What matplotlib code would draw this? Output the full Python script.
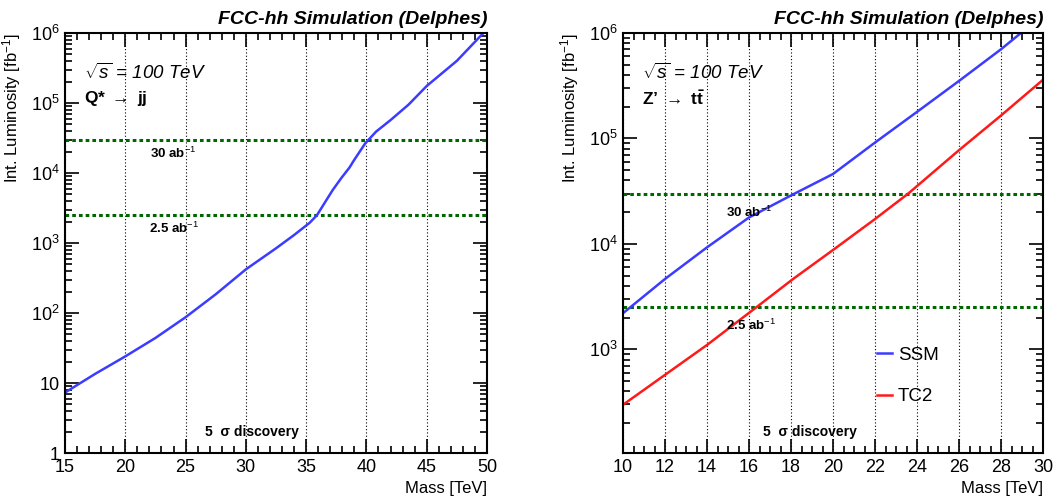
import numpy as np
import matplotlib
matplotlib.use("Agg")
import matplotlib.pyplot as plt
from matplotlib.ticker import MultipleLocator, LogLocator, NullFormatter, FixedLocator, FixedFormatter

plt.rcParams['font.family'] = ['Liberation Sans', 'DejaVu Sans']
plt.rcParams['mathtext.fontset'] = 'custom'
plt.rcParams['mathtext.rm'] = 'Liberation Sans'
plt.rcParams['mathtext.it'] = 'Liberation Sans:italic'
plt.rcParams['mathtext.bf'] = 'Liberation Sans:bold'

# Q* -> jj (left)
qstar_mass = [15, 17.5, 20, 22.5, 25, 27.5, 30, 32.5, 34, 35.3, 35.9, 36.6, 37.2, 37.9,
              38.6, 39.0, 39.9, 40.8, 42, 43.5, 45, 47.5, 49.7]
qstar_lumi = [7.3, 13.5, 24, 44, 87, 185, 420, 840, 1300, 1950, 2500, 3900, 5700, 8400,
              12000, 15500, 26500, 39000, 57000, 95000, 175000, 400000, 1.0e6]

# Z' -> tt (right)
ssm_mass = [10, 12, 14, 16, 18.1, 20, 22, 24, 26, 28, 28.95]
ssm_lumi = [2200, 4650, 9270, 17800, 29500, 46000, 91400, 178600, 351000, 701000, 1.0e6]
tc2_mass = [10, 12, 14, 16.4, 18.1, 20, 22, 23.6, 26, 28, 30]
tc2_lumi = [298, 573, 1100, 2550, 4650, 8750, 17200, 30200, 77400, 165000, 360000]

lumi_lines = [30000, 2500]
lumi_labels = ["30 ab$^{-1}$", "2.5 ab$^{-1}$"]

blue = '#3c3cff'
red = '#ff1a1a'
green = '#006600'

fig = plt.figure(figsize=(10.62, 4.99), dpi=100)
W, H = 1062, 499
axL = fig.add_axes([65 / W, 1 - 453 / H, 422 / W, 420 / H])
axR = fig.add_axes([623 / W, 1 - 453 / H, 420 / W, 420 / H])


def style(ax):
    ax.set_yscale('log')
    ax.tick_params(which='both', direction='in', top=True, right=True,
                   labelsize=13, width=1.2, pad=4)
    ax.tick_params(which='major', length=10)
    ax.tick_params(which='minor', length=5)
    for s in ax.spines.values():
        s.set_linewidth(1.5)
    ax.xaxis.grid(True, which='major', linestyle=(0, (1, 2)), color='black', lw=0.8)
    ax.set_xlabel("Mass [TeV]", fontsize=12, loc='right')
    ax.set_ylabel("Int. Luminosity [fb$^{-1}$]", fontsize=12, loc='top')
    ax.yaxis.set_label_coords(-0.1, 1.0)
    ax.text(1.0, 1.012, "FCC-hh Simulation (Delphes)", transform=ax.transAxes,
            ha='right', va='bottom', fontsize=14, fontweight='bold', fontstyle='italic')
    ax.yaxis.set_minor_locator(LogLocator(base=10, subs=np.arange(2, 10)))
    ax.yaxis.set_minor_formatter(NullFormatter())
    for v in lumi_lines:
        ax.axhline(v, color=green, lw=2.2, linestyle=(0, (1.2, 1.0)))
    ax.text(0.045, 0.905, r"$\sqrt{s}$ = 100 TeV", transform=ax.transAxes,
            fontsize=13.5, fontstyle='italic', va='center')


# left panel
style(axL)
axL.plot(qstar_mass, qstar_lumi, color=blue, lw=1.8)
axL.set_xlim(15, 50)
axL.set_ylim(1, 1e6)
axL.xaxis.set_major_locator(MultipleLocator(5))
axL.xaxis.set_minor_locator(MultipleLocator(1))
yt = [1, 10, 1e2, 1e3, 1e4, 1e5, 1e6]
axL.yaxis.set_major_locator(FixedLocator(yt))
axL.yaxis.set_major_formatter(FixedFormatter(["1", "10", "$10^2$", "$10^3$", "$10^4$", "$10^5$", "$10^6$"]))
axL.text(0.045, 0.843, r"Q* $\rightarrow$ jj", transform=axL.transAxes,
         fontsize=12.5, va='center', fontweight='bold')
axL.text(24.0, 1.9e4, lumi_labels[0], fontsize=9.5, fontweight='bold', ha='center', va='center')
axL.text(24.0, 1.6e3, lumi_labels[1], fontsize=9.5, fontweight='bold', ha='center', va='center')
axL.text(30.5, 2.0, "5  σ discovery", fontsize=10, fontweight='bold', ha='center', va='center')

# right panel
style(axR)
axR.plot(ssm_mass, ssm_lumi, color=blue, lw=1.8, label='SSM')
axR.plot(tc2_mass, tc2_lumi, color=red, lw=1.8, label='TC2')
axR.set_xlim(10, 30)
axR.set_ylim(104, 1e6)
axR.xaxis.set_major_locator(MultipleLocator(2))
axR.xaxis.set_minor_locator(MultipleLocator(0.5))
yt = [1e3, 1e4, 1e5, 1e6]
axR.yaxis.set_major_locator(FixedLocator(yt))
axR.yaxis.set_major_formatter(FixedFormatter(["$10^3$", "$10^4$", "$10^5$", "$10^6$"]))
axR.text(0.045, 0.843, "Z\u2019 $\\rightarrow$ $\\mathbf{t\\bar{t}}$", transform=axR.transAxes,
         fontsize=12.5, va='center', fontweight='bold')
axR.text(16.0, 2.0e4, lumi_labels[0], fontsize=9.5, fontweight='bold', ha='center', va='center')
axR.text(16.1, 1.7e3, lumi_labels[1], fontsize=9.5, fontweight='bold', ha='center', va='center')
axR.text(18.9, 1.65e2, "5  σ discovery", fontsize=10, fontweight='bold', ha='center', va='center')
axR.legend(loc='center left', bbox_to_anchor=(0.565, 0.183), frameon=False, fontsize=13.5,
           handlelength=0.8, handletextpad=0.3, labelspacing=1.3)

fig.savefig("out.png", dpi=100)
